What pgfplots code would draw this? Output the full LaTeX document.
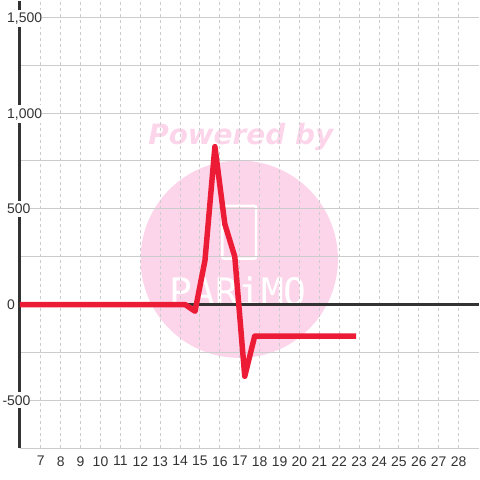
\documentclass[border=0pt]{standalone}
\usepackage{fontspec}
\setmainfont{Liberation Sans}
\newfontfamily\wmfont{DejaVu Sans}
\newfontfamily\wmmono{DejaVu Sans Mono}
\usepackage{pgfplots}
\pgfplotsset{compat=1.18}
\definecolor{linered}{RGB}{237,28,54}
\definecolor{wmpink}{RGB}{252,213,234}
\definecolor{axdark}{RGB}{51,51,51}
\definecolor{gridgray}{RGB}{204,204,204}
\begin{document}
\begin{tikzpicture}[x=1bp,y=1bp]
\begin{axis}[
  set layers,
  at={(20bp,32bp)}, anchor=south west,
  scale only axis, width=460bp, height=448bp,
  xmin=5.95, xmax=29, ymin=-750, ymax=1583.33,
  axis y line*=left, axis x line*=bottom,
  x axis line style={draw=none},
  y axis line style={axdark, line width=3bp},
  /pgf/number format/assume math mode=true,
  xtick={7,...,28},
  ytick={-500,0,500,1000,1500},
  yticklabels={\llap{-}500,0,500,{1,000},{1,500}},
  minor ytick={-750,-250,250,750,1250},
  ymajorgrids, yminorgrids,
  major grid style={gridgray, line width=1bp},
  minor grid style={gridgray, line width=1bp},
  extra x ticks={7,...,28},
  extra x tick labels={},
  extra x tick style={xmajorgrids=true, ymajorgrids=false, major grid style={gridgray, line width=1bp, dash pattern=on 3bp off 3bp}},
  extra y ticks={0},
  extra y tick labels={},
  extra y tick style={ymajorgrids=true, major grid style={axdark, line width=3bp}},
  major tick length=0pt, minor tick length=0pt,
  tick style={draw=none},
  tick label style={font=\fontsize{14bp}{16bp}\selectfont, text=axdark},
  xticklabel style={anchor=north, inner sep=0pt, yshift=-8bp},
  yticklabel style={anchor=base west, inner xsep=0pt, inner ysep=3bp, fill=white, xshift=-13bp, yshift=-5bp},
]
\begin{pgfonlayer}{axis background}
\fill[wmpink] (axis cs:16.974,236.98) circle[radius=99bp];
\node[anchor=base, text=wmpink, font=\wmfont\bfseries\itshape\fontsize{28bp}{30bp}\selectfont, inner sep=0pt] at (axis cs:17.05,838.5) {Powered by};
\draw[white, line width=2.5bp, rounded corners=2bp] (axis cs:16.122,515.6) rectangle (axis cs:17.826,239.6);
\node[anchor=base, text=white, font=\wmmono\fontsize{38bp}{40bp}\selectfont, inner sep=0pt] at (axis cs:16.924,-5.2) {PARiMO};
\end{pgfonlayer}
\addplot[linered, line width=5.5bp, line join=round] table {
x y
5.95 0
14.25 0
14.75 -35
15.25 230
15.75 825
16.25 420
16.75 250
17.25 -375
17.75 -165
22.85 -165
};
\end{axis}
\path (0,0) rectangle (480,480);
\end{tikzpicture}
\end{document}
